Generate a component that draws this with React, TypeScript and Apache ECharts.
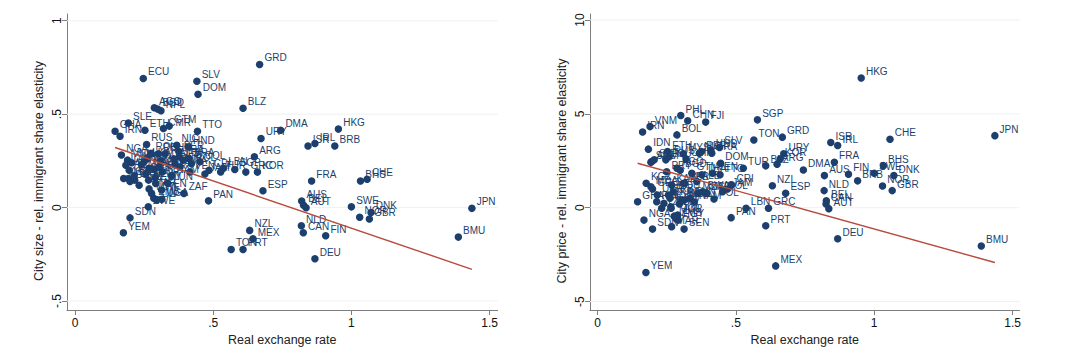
import React, { useEffect, useRef } from "react";
import * as echarts from "echarts";

const countries = [
  "GRD", "ECU", "SLV", "DOM", "BLZ", "HKG", "JPN", "BMU", "DEU", "FIN",
  "BRB", "CHE", "BHS", "SWE", "DNK", "NOR", "GBR", "ISR", "IRL", "FRA",
  "AUS", "BEL", "AUT", "NLD", "CAN", "DMA", "URY", "ARG", "ESP", "NZL",
  "MEX", "PRT", "TON", "PAN", "SDN", "YEM", "NGA", "GHA", "IRN", "SGP",
  "KOR", "GRC", "LBN", "CRI", "VEN", "PHL", "CHN", "FJI", "VNM", "BOL",
  "IDN", "SLE", "ETH", "CMR", "GTM", "TTO", "RUS", "NIC", "HND", "ZAF",
  "UGA", "ZWE", "AGO", "BGD", "NPL", "PER", "BRA", "MYS", "POL", "JOR",
  "SEN", "MAR", "EGY", "KEN", "TZA", "IND", "PAK", "LKA", "MNG", "COL",
  "THA", "TUR", "PRY", "ROU", "UKR", "KAZ", "ARM", "GEO", "MDA", "KGZ",
  "BLR", "ALB", "SRB", "TUN", "JAM", "MUS", "BWA", "NAM", "ZMB", "CIV",
  "SYR", "MWI",
];

const realExchangeRate = [
  0.668, 0.247, 0.441, 0.445, 0.608, 0.953, 1.436, 1.387, 0.868, 0.907,
  0.94, 1.057, 1.033, 1.0, 1.071, 1.03, 1.065, 0.843, 0.868, 0.856,
  0.82, 0.827, 0.836, 0.819, 0.826, 0.744, 0.673, 0.649, 0.68, 0.632,
  0.644, 0.608, 0.565, 0.483, 0.199, 0.175, 0.168, 0.145, 0.163, 0.578,
  0.66, 0.618, 0.537, 0.485, 0.416, 0.301, 0.326, 0.391, 0.19, 0.287,
  0.184, 0.193, 0.253, 0.32, 0.341, 0.443, 0.259, 0.368, 0.41, 0.394,
  0.314, 0.265, 0.287, 0.299, 0.311, 0.376, 0.413, 0.31, 0.421, 0.29,
  0.313, 0.268, 0.292, 0.266, 0.232, 0.24, 0.214, 0.262, 0.304, 0.452,
  0.377, 0.527, 0.25, 0.274, 0.216, 0.268, 0.196, 0.199, 0.193, 0.176,
  0.316, 0.359, 0.256, 0.335, 0.47, 0.362, 0.38, 0.35, 0.285, 0.296,
  0.205, 0.277,
];

const citySizeElasticity = [
  0.766, 0.691, 0.676, 0.607, 0.532, 0.42, -0.004, -0.158, -0.274, -0.151,
  0.33, 0.152, 0.142, 0.004, -0.026, -0.052, -0.061, 0.33, 0.343, 0.142,
  0.035, 0.013, -0.001, -0.097, -0.135, 0.414, 0.37, 0.272, 0.09, -0.122,
  -0.167, -0.224, -0.224, 0.036, -0.055, -0.135, 0.281, 0.409, 0.382, 0.204,
  0.19, 0.19, 0.21, 0.2, 0.191, 0.288, 0.288, 0.254, 0.254, 0.205,
  0.227, 0.453, 0.414, 0.423, 0.436, 0.409, 0.338, 0.334, 0.325, 0.076,
  0.045, 0.004, 0.534, 0.527, 0.518, 0.3, 0.262, 0.25, 0.235, 0.16,
  0.094, 0.1, 0.129, 0.147, 0.12, 0.23, 0.17, 0.262, 0.22, 0.245,
  0.272, 0.191, 0.245, 0.29, 0.147, 0.21, 0.2, 0.14, 0.156, 0.156,
  0.191, 0.26, 0.18, 0.13, 0.18, 0.23, 0.218, 0.17, 0.05, 0.04,
  0.24, 0.076,
];

const cityPriceElasticity = [
  3.76, 2.55, 3.21, 2.37, 2.23, 6.91, 3.84, -2.04, -1.65, 1.78,
  1.43, 3.65, 2.24, 1.84, 1.71, 1.16, 0.91, 3.47, 3.31, 2.42,
  1.71, 0.37, -0.05, 0.91, 0.2, 2.01, 2.87, 2.32, 0.77, 1.17,
  -3.1, -0.96, 3.61, -0.53, -1.14, -3.45, -0.66, 0.32, 4.03, 4.68,
  2.6, -0.03, -0.03, 1.21, 1.84, 4.91, 4.63, 4.56, 4.32, 3.88,
  3.12, 2.42, 2.99, 2.6, 1.84, 1.75, 2.72, 2.9, 3.08, 0.77,
  0.41, 0.05, 2.1, 2.0, 1.3, 2.99, 2.9, 2.87, 0.46, -0.39,
  -1.14, -1.01, -0.66, -0.03, -0.03, 0.23, 0.32, 0.5, 0.41, 0.85,
  1.75, 2.1, 1.92, 0.85, 0.68, 1.21, 2.46, 1.0, 1.12, 1.3,
  1.3, 1.39, 0.68, 0.5, 1.0, 0.77, 0.85, 0.3, -0.6, 0.2,
  2.55, -0.45,
];

const xTicks = [0, 0.5, 1, 1.5];
const sizeTicks = [-0.5, 0, 0.5, 1];
const priceTicks = [-5, 0, 5, 10];

const sizeFit = { intercept: 0.395, slope: -0.505 };
const priceFit = { intercept: 2.964, slope: -4.098 };

const xTitle = "Real exchange rate";
const sizeTitle = "City size - rel. immigrant share elasticity";
const priceTitle = "City price - rel. immigrant share elasticity";

const navy = "#1c3f6e";
const fitColor = "#b84a3c";
const axisColor = "#7d7d7d";
const gridColor = "#edf1f3";
const font = "'Liberation Sans', Arial, Helvetica, sans-serif";

const fmt = (v: number) => {
  let s = String(Math.round(v * 1000) / 1000);
  if (s.startsWith("0.")) s = s.slice(1);
  else if (s.startsWith("-0.")) s = "-" + s.slice(2);
  return s;
};

export default function App() {
  const ref = useRef<HTMLDivElement>(null);
  useEffect(() => {
    if (!ref.current) return;
    const chart = echarts.init(ref.current, undefined, { renderer: "svg" });

    const xMinData = Math.min(...realExchangeRate);
    const xMaxData = Math.max(...realExchangeRate);

    const panels = [
      { ys: citySizeElasticity, ticks: sizeTicks, fit: sizeFit, title: sizeTitle, xr: [-0.029, 1.529], yr: [-0.548, 1.036] },
      { ys: cityPriceElasticity, ticks: priceTicks, fit: priceFit, title: priceTitle, xr: [-0.027, 1.525], yr: [-5.45, 10.32] },
    ];

    const grids = [
      { left: 67, top: 14, width: 430.6, height: 296 },
      { left: 590, top: 14, width: 429.5, height: 296 },
    ];

    const xAxes = panels.map((p, i) => ({
      type: "value",
      gridIndex: i,
      min: p.xr[0],
      max: p.xr[1],
      axisLine: { show: true, onZero: false, lineStyle: { color: axisColor, width: 1 } },
      axisTick: { show: true, customValues: xTicks, length: 5, lineStyle: { color: axisColor } },
      axisLabel: { customValues: xTicks, formatter: fmt, margin: 7, fontSize: 12, color: "#111", fontFamily: font },
      splitLine: { show: false },
      name: xTitle,
      nameLocation: "middle",
      nameGap: 21,
      nameTextStyle: { fontSize: 12.5, color: "#222", fontFamily: font },
    }));

    const yAxes = panels.map((p, i) => ({
      type: "value",
      gridIndex: i,
      min: p.yr[0],
      max: p.yr[1],
      axisLine: { show: true, onZero: false, lineStyle: { color: axisColor, width: 1 } },
      axisTick: { show: true, customValues: p.ticks, length: 5, lineStyle: { color: axisColor } },
      axisLabel: { customValues: p.ticks, formatter: fmt, rotate: 90, margin: 4, fontSize: 12, color: "#111", fontFamily: font },
      splitLine: { show: false },
      name: p.title,
      nameLocation: "middle",
      nameRotate: 90,
      nameGap: 22,
      nameTextStyle: { fontSize: 12.5, color: "#222", fontFamily: font, padding: [0, 18, 0, 0] },
    }));

    const series: any[] = [];
    panels.forEach((p, i) => {
      p.ticks.forEach((t) => {
        series.push({
          type: "line",
          xAxisIndex: i,
          yAxisIndex: i,
          data: [[p.xr[0], t], [p.xr[1], t]],
          showSymbol: false,
          silent: true,
          z: 1,
          lineStyle: { color: gridColor, width: 1 },
        });
      });
      series.push({
        type: "scatter",
        xAxisIndex: i,
        yAxisIndex: i,
        z: 3,
        symbolSize: 7.5,
        itemStyle: { color: navy, opacity: 1 },
        label: {
          show: true,
          formatter: "{b}",
          position: "right",
          distance: 1,
          offset: [0, -6.5],
          fontSize: 10,
          color: navy,
          fontFamily: font,
        },
        data: countries.map((c, k) => ({ name: c, value: [realExchangeRate[k], p.ys[k]] })),
      });
      series.push({
        type: "line",
        xAxisIndex: i,
        yAxisIndex: i,
        z: 4,
        showSymbol: false,
        silent: true,
        lineStyle: { color: fitColor, width: 1.4 },
        data: [
          [xMinData, p.fit.intercept + p.fit.slope * xMinData],
          [xMaxData, p.fit.intercept + p.fit.slope * xMaxData],
        ],
      });
    });

    chart.setOption({
      animation: false,
      backgroundColor: "#ffffff",
      grid: grids,
      xAxis: xAxes,
      yAxis: yAxes,
      series,
    });
    return () => chart.dispose();
  }, []);

  return (
    <div
      ref={ref}
      style={{ position: "fixed", left: 0, top: 0, width: 1072, height: 358, background: "#fff" }}
    />
  );
}
